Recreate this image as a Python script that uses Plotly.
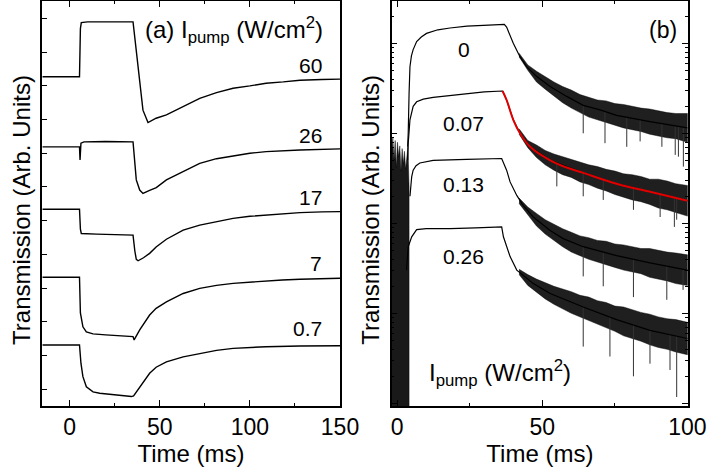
import plotly.graph_objects as go

# ---------------- Panel (a): transmission traces (arb. units) ----------------
a_time_60 = [-15, 5.5, 6.0, 6.5, 10, 20, 30, 35.2, 37, 38.9, 40.7, 43.5, 48, 53.7, 63, 72.2, 81.5, 90.7, 100, 109, 118.5, 127.8, 140, 150]
a_trans_60 = [9.77, 9.77, 11.2, 11.38, 11.40, 11.41, 11.40, 11.40, 10.56, 9.58, 8.78, 8.41, 8.54, 8.64, 8.88, 9.13, 9.30, 9.43, 9.50, 9.58, 9.62, 9.67, 9.69, 9.70]

a_time_26 = [-15, 5.5, 5.8, 6.3, 8, 20, 35.2, 36.2, 37, 38.9, 40.7, 44.4, 48.1, 53.7, 63, 72.2, 81.5, 90.7, 100, 109, 127.8, 150]
a_trans_26 = [7.69, 7.69, 7.30, 7.80, 7.84, 7.85, 7.84, 7.30, 6.71, 6.41, 6.31, 6.40, 6.48, 6.71, 6.95, 7.20, 7.34, 7.43, 7.50, 7.55, 7.60, 7.63]

a_time_17 = [-15, 5.5, 6.0, 6.5, 15, 25, 35.2, 36.2, 37, 38, 41, 44.4, 48, 53.7, 63, 72.2, 81.5, 90.7, 100, 109, 118, 127.8, 140, 150]
a_trans_17 = [5.84, 5.84, 5.25, 5.12, 5.10, 5.08, 5.07, 4.60, 4.35, 4.31, 4.40, 4.53, 4.72, 4.95, 5.22, 5.37, 5.48, 5.57, 5.63, 5.67, 5.71, 5.74, 5.76, 5.77]

a_time_7 = [-15, 5.5, 6.0, 7.4, 9.3, 13, 20, 30, 35.2, 35.8, 38.9, 44.4, 48, 53.7, 63, 72.2, 81.5, 90.7, 100, 109, 118, 127.8, 140, 150]
a_trans_7 = [3.82, 3.82, 2.76, 2.35, 2.20, 2.14, 2.11, 2.08, 2.06, 1.96, 2.26, 2.70, 2.90, 3.09, 3.34, 3.49, 3.58, 3.64, 3.68, 3.72, 3.74, 3.76, 3.78, 3.79]

a_time_07 = [-15, 5.5, 6.3, 7.4, 9.3, 13, 16.7, 25.9, 34.3, 35.5, 38.9, 44.4, 48, 53.7, 63, 72.2, 81.5, 90.7, 100, 109, 127.8, 150]
a_trans_07 = [1.81, 1.81, 1.27, 0.87, 0.57, 0.42, 0.38, 0.33, 0.28, 0.30, 0.57, 0.97, 1.15, 1.31, 1.46, 1.56, 1.65, 1.71, 1.74, 1.76, 1.78, 1.79]

a_labels = ["60", "26", "17", "7", "0.7"]
a_label_pos = [10.12, 8.04, 6.20, 4.24, 2.31]

# ---------------- Panel (b): log10 of transmission (arb. units) ----------------
b_time_0 = [3.6, 3.8, 4.1, 4.4, 4.9, 5.5, 6.7, 8.3, 10.1, 14, 18.2, 24, 29.7, 36.9, 37.7, 40.0, 42.3, 44.6, 48.1, 52.7, 58.4, 64.1, 69.9, 75.6, 87.1, 100]
b_log_0 = [2.85, 3.00, 3.45, 3.74, 3.86, 3.93, 4.02, 4.07, 4.11, 4.15, 4.17, 4.19, 4.20, 4.21, 4.18, 4.00, 3.85, 3.74, 3.63, 3.52, 3.41, 3.31, 3.26, 3.20, 3.13, 3.06]

b_time_007 = [3.6, 3.8, 4.4, 5.0, 5.5, 6.7, 9, 12.4, 18, 23.9, 30, 36.3, 37.7, 40, 42.3, 45.8, 52.7, 64.1, 75.6, 87.1, 100]
b_log_007 = [2.70, 2.89, 3.15, 3.25, 3.30, 3.35, 3.38, 3.40, 3.42, 3.44, 3.46, 3.47, 3.37, 3.15, 3.00, 2.85, 2.70, 2.56, 2.44, 2.35, 2.25]

b_time_013 = [4.4, 5.0, 5.5, 6.5, 7.8, 12.4, 23.9, 36.0, 37.7, 38.9, 41.2, 43.4, 46.9, 52.7, 57.2, 64.1, 75.6, 87.1, 100]
b_log_013 = [2.30, 2.52, 2.59, 2.64, 2.67, 2.70, 2.71, 2.72, 2.59, 2.46, 2.31, 2.20, 2.07, 1.92, 1.83, 1.74, 1.64, 1.56, 1.48]

b_time_026 = [3.2, 3.8, 5.0, 6.7, 10, 18.2, 27, 36.0, 36.6, 37.7, 38.9, 41.2, 46.9, 52.7, 64.1, 75.6, 87.1, 100]
b_log_026 = [1.48, 1.74, 1.85, 1.93, 1.94, 1.94, 1.95, 1.96, 1.85, 1.74, 1.63, 1.48, 1.33, 1.22, 1.07, 0.93, 0.81, 0.72]

# fit to the 0.07 W/cm2 decay (red)
b_fit_time = [36.3, 37.7, 40, 42.3, 45.8, 52.7, 58.4, 64.1, 75.6, 87.1, 100]
b_fit_log = [3.47, 3.37, 3.15, 3.00, 2.85, 2.70, 2.62, 2.56, 2.44, 2.35, 2.25]

# noise envelopes of the decay tails (log10 units)
b_band_time = [42, 45, 48, 51, 54, 57, 60, 63, 66, 69, 72, 75, 78, 81, 84, 87, 90, 93, 96, 100]
b_upper_0 = [3.89, 3.76, 3.69, 3.63, 3.57, 3.52, 3.48, 3.43, 3.40, 3.37, 3.36, 3.33, 3.32, 3.30, 3.28, 3.27, 3.25, 3.23, 3.22, 3.22]
b_lower_0 = [3.85, 3.70, 3.57, 3.49, 3.41, 3.34, 3.28, 3.23, 3.18, 3.15, 3.12, 3.09, 3.06, 3.04, 3.02, 2.99, 2.97, 2.95, 2.94, 2.90]
b_upper_007 = [3.05, 2.92, 2.87, 2.81, 2.77, 2.74, 2.71, 2.68, 2.65, 2.63, 2.60, 2.58, 2.55, 2.54, 2.52, 2.49, 2.49, 2.47, 2.44, 2.42]
b_lower_007 = [2.99, 2.84, 2.73, 2.65, 2.59, 2.54, 2.51, 2.46, 2.43, 2.39, 2.36, 2.32, 2.29, 2.26, 2.24, 2.21, 2.17, 2.15, 2.12, 2.08]
b_upper_013 = [2.28, 2.18, 2.11, 2.04, 1.99, 1.94, 1.90, 1.86, 1.84, 1.81, 1.80, 1.77, 1.76, 1.74, 1.72, 1.72, 1.70, 1.68, 1.67, 1.65]
b_lower_013 = [2.22, 2.10, 1.97, 1.88, 1.81, 1.74, 1.68, 1.64, 1.60, 1.57, 1.54, 1.51, 1.48, 1.46, 1.44, 1.40, 1.38, 1.36, 1.33, 1.31]
b_upper_026 = [1.49, 1.43, 1.38, 1.34, 1.30, 1.27, 1.24, 1.20, 1.18, 1.14, 1.12, 1.08, 1.07, 1.04, 1.01, 0.99, 0.96, 0.94, 0.93, 0.90]
b_lower_026 = [1.43, 1.31, 1.24, 1.16, 1.10, 1.05, 1.00, 0.96, 0.92, 0.88, 0.84, 0.80, 0.75, 0.72, 0.69, 0.65, 0.62, 0.60, 0.57, 0.54]

# noisy signal before the pump switches on (log10 units)
b_pre_time = [-1.9, -1.5, -1.1, -0.7, -0.3, 0.1, 0.5, 0.9, 1.3, 1.7, 2.1, 2.5, 2.9, 3.3, 3.7, 4.1]
b_pre_upper = [2.78, 2.95, 2.70, 2.92, 2.62, 2.90, 2.74, 2.86, 2.58, 2.83, 2.66, 2.80, 2.60, 2.75, 2.85, 2.40]
b_pre_lower = [-0.4, -0.5, -0.4, -0.5, -0.4, -0.5, -0.4, -0.5, -0.4, -0.5, -0.4, -0.5, -0.4, -0.5, -0.4, -0.5]

# downward noise spikes in the tails
b_spike_time_0 = [64.1, 71.6, 79.1, 83.7, 91.2, 95.8, 96.9, 98.6]
b_spike_top_0 = [3.31, 3.24, 3.18, 3.15, 3.11, 3.08, 3.07, 3.06]
b_spike_bot_0 = [3.00, 2.89, 2.85, 2.91, 2.85, 2.76, 2.74, 2.63]
b_spike_time_007 = [55, 64.1, 71, 81.4, 90.6, 95.5, 96.3]
b_spike_top_007 = [2.66, 2.56, 2.48, 2.40, 2.33, 2.28, 2.28]
b_spike_bot_007 = [2.41, 2.30, 2.26, 2.15, 2.07, 1.96, 2.04]
b_spike_time_013 = [64.1, 71, 81.4, 92.9, 98.5]
b_spike_top_013 = [1.74, 1.67, 1.60, 1.53, 1.48]
b_spike_bot_013 = [1.41, 1.30, 1.18, 1.15, 1.26]
b_spike_time_026 = [64.1, 73.3, 81.4, 87.1, 94, 96.3]
b_spike_top_026 = [1.07, 0.97, 0.88, 0.82, 0.77, 0.75]
b_spike_bot_026 = [0.63, 0.52, 0.30, 0.44, 0.37, 0.07]

b_labels = ["0", "0.07", "0.13", "0.26"]
b_label_pos = [3.93, 3.11, 2.43, 1.63]

FONT = "Liberation Sans, Arial, sans-serif"
BLACK = "black"


def lin(v):
    return [10 ** x for x in v]


fig = go.Figure()

# ---- panel (a) ----
for t, y in [(a_time_60, a_trans_60), (a_time_26, a_trans_26), (a_time_17, a_trans_17),
             (a_time_7, a_trans_7), (a_time_07, a_trans_07)]:
    fig.add_trace(go.Scatter(x=t, y=y, mode="lines", line=dict(color=BLACK, width=1.4),
                             xaxis="x", yaxis="y", hoverinfo="skip"))

# ---- panel (b) ----
fig.add_trace(go.Scatter(x=b_pre_time + b_pre_time[::-1], y=lin(b_pre_upper + b_pre_lower[::-1]),
                         mode="lines", fill="toself", fillcolor="rgba(0,0,0,0.9)",
                         line=dict(color="rgba(0,0,0,0.9)", width=0.5),
                         xaxis="x2", yaxis="y2", hoverinfo="skip"))
for up, lo in [(b_upper_0, b_lower_0), (b_upper_007, b_lower_007),
               (b_upper_013, b_lower_013), (b_upper_026, b_lower_026)]:
    fig.add_trace(go.Scatter(x=b_band_time + b_band_time[::-1], y=lin(up + lo[::-1]),
                             mode="lines", fill="toself", fillcolor="rgba(0,0,0,0.88)",
                             line=dict(color="rgba(0,0,0,0.88)", width=0.5),
                             xaxis="x2", yaxis="y2", hoverinfo="skip"))
for st, top, bot in [(b_spike_time_0, b_spike_top_0, b_spike_bot_0),
                     (b_spike_time_007, b_spike_top_007, b_spike_bot_007),
                     (b_spike_time_013, b_spike_top_013, b_spike_bot_013),
                     (b_spike_time_026, b_spike_top_026, b_spike_bot_026)]:
    xs, ys = [], []
    for t, a, b in zip(st, top, bot):
        xs += [t, t, None]
        ys += [10 ** a, 10 ** b, None]
    fig.add_trace(go.Scatter(x=xs, y=ys, mode="lines", line=dict(color="#333", width=1),
                             xaxis="x2", yaxis="y2", hoverinfo="skip"))
for t, v in [(b_time_0, b_log_0), (b_time_007, b_log_007),
             (b_time_013, b_log_013), (b_time_026, b_log_026)]:
    fig.add_trace(go.Scatter(x=t, y=lin(v), mode="lines", line=dict(color=BLACK, width=1.2),
                             xaxis="x2", yaxis="y2", hoverinfo="skip"))
fig.add_trace(go.Scatter(x=b_fit_time, y=lin(b_fit_log), mode="lines",
                         line=dict(color="#e00000", width=2, shape="spline"),
                         xaxis="x2", yaxis="y2", hoverinfo="skip"))

TITLE = "Transmission (Arb. Units)"
annotations = []
annotations.append(dict(x=91, y=11.16, xref="x", yref="y",
                        text="(a) I<sub>pump</sub> (W/cm<sup>2</sup>)", showarrow=False,
                        font=dict(size=24, family=FONT, color=BLACK)))
for lab, yv in zip(a_labels, a_label_pos):
    annotations.append(dict(x=141, y=yv, xref="x", yref="y", text=lab, showarrow=False,
                            xanchor="right", font=dict(size=21, family=FONT, color=BLACK)))
annotations.append(dict(x=91.6, y=4.15, xref="x2", yref="y2", text="(b)", showarrow=False,
                        font=dict(size=23, family=FONT, color=BLACK)))
for lab, yv in zip(b_labels, b_label_pos):
    annotations.append(dict(x=23, y=yv, xref="x2", yref="y2", text=lab, showarrow=False,
                            font=dict(size=21, family=FONT, color=BLACK)))
annotations.append(dict(x=35.4, y=0.34, xref="x2", yref="y2",
                        text="I<sub>pump</sub> (W/cm<sup>2</sup>)", showarrow=False,
                        font=dict(size=24, family=FONT, color=BLACK)))
# y-axis titles (rotated)
annotations.append(dict(x=-0.031, y=0.484, xref="paper", yref="paper", text=TITLE,
                        textangle=-90, showarrow=False, xanchor="center", yanchor="middle",
                        font=dict(size=24, family=FONT, color=BLACK)))
annotations.append(dict(x=0.509, y=0.484, xref="paper", yref="paper", text=TITLE,
                        textangle=-90, showarrow=False, xanchor="center", yanchor="middle",
                        font=dict(size=24, family=FONT, color=BLACK)))

TICKFONT = dict(size=23, family=FONT, color=BLACK)
TITLEFONT = dict(size=24, family=FONT, color=BLACK)
common_x = dict(showgrid=False, zeroline=False, showline=True, linecolor=BLACK, linewidth=1.5,
                mirror="allticks", ticks="inside", ticklen=6, tickwidth=1.2, tickcolor=BLACK,
                tickfont=TICKFONT, automargin=False,
                title=dict(text="Time (ms)", font=TITLEFONT, standoff=0))

fig.update_layout(
    template="none",
    width=708, height=468,
    margin=dict(l=42, r=20, t=1, b=62, pad=0),
    paper_bgcolor="white", plot_bgcolor="white",
    showlegend=False,
    font=dict(family=FONT, color=BLACK),
    annotations=annotations,
    xaxis=dict(domain=[0.0, 0.4613], range=[-15.3, 150], anchor="y",
               tick0=0, dtick=50,
               minor=dict(dtick=25, ticks="inside", ticklen=3, tickcolor=BLACK, tickwidth=1.2),
               **common_x),
    yaxis=dict(domain=[0, 1], range=[0, 12.02], anchor="x", tick0=0.5, dtick=1,
               showgrid=False, zeroline=False, showline=True, linecolor=BLACK, linewidth=1.5,
               mirror=True, ticks="inside", ticklen=5, tickwidth=1.2, tickcolor=BLACK,
               showticklabels=False, automargin=False),
    yaxis3=dict(overlaying="y", side="right", anchor="x", range=[0, 12.02], tick0=0, dtick=0.5,
                showgrid=False, zeroline=False, showline=False, ticks="inside", ticklen=5,
                tickwidth=1.2, tickcolor=BLACK, showticklabels=False, automargin=False),
    xaxis2=dict(domain=[0.5413, 1.0], range=[-1.9, 100.2], anchor="y2",
                tick0=0, dtick=50,
                minor=dict(dtick=25, ticks="inside", ticklen=3, tickcolor=BLACK, tickwidth=1.2),
                **common_x),
    yaxis2=dict(domain=[0, 1], type="log", range=[-0.03, 4.47], anchor="x2", dtick=1,
                showgrid=False, zeroline=False, showline=True, linecolor=BLACK, linewidth=1.5,
                mirror="allticks", ticks="inside", ticklen=6, tickwidth=1.2, tickcolor=BLACK,
                minor=dict(dtick="D1", ticks="inside", ticklen=3, tickcolor=BLACK, tickwidth=1),
                showticklabels=False, automargin=False),
)

fig.write_html("out.html", config={"displayModeBar": False},
               post_script="document.body.style.margin='0px';document.body.style.overflow='hidden';")
